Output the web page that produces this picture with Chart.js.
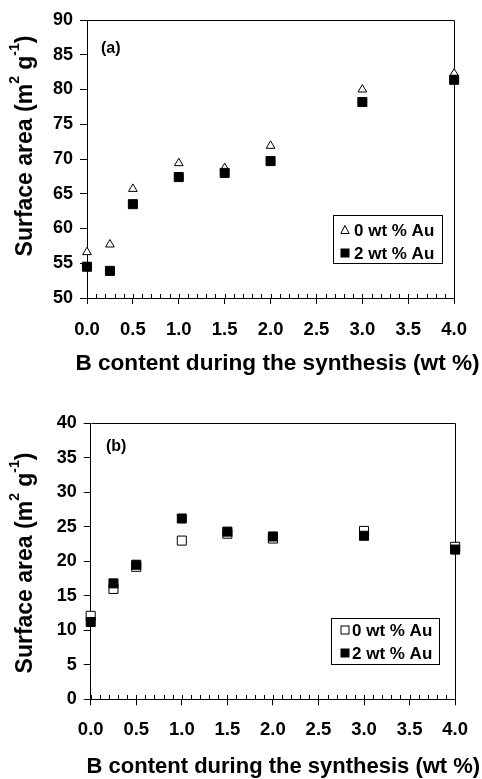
<!DOCTYPE html>
<html>
<head>
<meta charset="utf-8">
<script src="https://cdn.jsdelivr.net/npm/chart.js@4.4.1/dist/chart.umd.min.js"></script>
<style>
  html, body { margin: 0; padding: 0; background: #fff; }
  .panel { position: relative; width: 482px; }
  canvas { display: block; }
</style>
</head>
<body>
<div class="panel"><canvas id="panelA" width="482" height="390"></canvas></div>
<div class="panel"><canvas id="panelB" width="482" height="389"></canvas></div>
<script>
// Contenido de B (wt %) usado en la síntesis
const bContent = [0.0, 0.25, 0.5, 1.0, 1.5, 2.0, 3.0, 4.0];

// (a) superficie específica
const areaA0 = [56.6, 57.7, 65.7, 69.4, 68.7, 71.9, 80.0, 82.3];
const areaA2 = [54.5, 53.9, 63.5, 67.4, 68.0, 69.7, 78.2, 81.4];

// (b) superficie específica
const areaB0 = [12.1, 16.0, 19.2, 23.0, 24.0, 23.3, 24.4, 22.1];
const areaB2 = [11.2, 16.8, 19.5, 26.2, 24.3, 23.6, 23.7, 21.7];

const serieLabels = ['0 wt % Au', '2 wt % Au'];
const xTitle = 'B content during the synthesis (wt %)';

const FONT = '"Liberation Sans", Arial, Helvetica, sans-serif';
Chart.defaults.font.family = FONT;
Chart.defaults.color = '#000';

function puntos(xs, ys) {
    return xs.map((x, i) => ({ x: x, y: ys[i] }));
}

// Marcadores pequeños para la leyenda
function dibujarMarcador(ctx, tipo, x, y) {
    ctx.save();
    ctx.lineWidth = 1;
    ctx.strokeStyle = '#000';
    if (tipo === 'triangle') {
        ctx.fillStyle = '#fff';
        ctx.beginPath();
        ctx.moveTo(x, y - 4.5);
        ctx.lineTo(x + 4.2, y + 3.5);
        ctx.lineTo(x - 4.2, y + 3.5);
        ctx.closePath();
        ctx.fill();
        ctx.stroke();
    } else {
        ctx.fillStyle = tipo === 'open' ? '#fff' : '#000';
        ctx.fillRect(x - 4, y - 4, 8, 8);
        ctx.strokeRect(x - 4, y - 4, 8, 8);
    }
    ctx.restore();
}

// Título del eje Y con superíndices
function dibujarTituloY(ctx, cx, cy) {
    const partes = [
        { t: 'Surface area (m', sup: false },
        { t: '2', sup: true },
        { t: ' g', sup: false },
        { t: '-1', sup: true },
        { t: ')', sup: false }
    ];
    const fNormal = 'bold 23px ' + FONT;
    const fSup = 'bold 14px ' + FONT;
    ctx.save();
    let total = 0;
    partes.forEach(p => {
        ctx.font = p.sup ? fSup : fNormal;
        p.w = ctx.measureText(p.t).width;
        total += p.w;
    });
    ctx.translate(cx, cy);
    ctx.rotate(-Math.PI / 2);
    ctx.fillStyle = '#000';
    ctx.textAlign = 'left';
    ctx.textBaseline = 'alphabetic';
    let x = -total / 2;
    partes.forEach(p => {
        ctx.font = p.sup ? fSup : fNormal;
        ctx.fillText(p.t, x, p.sup ? -5 : 8);
        x += p.w;
    });
    ctx.restore();
}

// Marco, marcas menores, títulos, etiqueta del panel y leyenda
const decoracionPanel = {
    id: 'decoracionPanel',
    beforeDatasetsDraw(chart, args, opts) {
        const ctx = chart.ctx;
        const a = chart.chartArea;
        const xs = chart.scales.x;
        ctx.save();
        ctx.strokeStyle = '#000';
        ctx.lineWidth = 1;
        ctx.beginPath();
        ctx.moveTo(Math.round(a.left) + 0.5, Math.round(a.top) + 0.5);
        ctx.lineTo(Math.round(a.right) + 0.5, Math.round(a.top) + 0.5);
        ctx.lineTo(Math.round(a.right) + 0.5, Math.round(a.bottom) + 0.5);
        ctx.stroke();
        ctx.beginPath();
        for (let i = 0; i <= 40; i++) {
            const px = Math.round(xs.getPixelForValue(i / 10)) + 0.5;
            ctx.moveTo(px, Math.round(a.bottom));
            ctx.lineTo(px, Math.round(a.bottom) - 4);
        }
        ctx.stroke();
        ctx.restore();
    },
    afterDraw(chart, args, opts) {
        const ctx = chart.ctx;
        ctx.save();
        ctx.fillStyle = '#000';
        ctx.font = 'bold 16px ' + FONT;
        ctx.textBaseline = 'middle';
        ctx.textAlign = 'left';
        ctx.fillText(opts.etiqueta, opts.etiquetaX, opts.etiquetaY);

        const L = opts.leyenda;
        ctx.fillStyle = '#fff';
        ctx.fillRect(L.x, L.y, L.w, L.h);
        ctx.strokeStyle = '#000';
        ctx.lineWidth = 1;
        ctx.strokeRect(L.x + 0.5, L.y + 0.5, L.w, L.h);
        ctx.fillStyle = '#000';
        ctx.font = 'bold 17px ' + FONT;
        serieLabels.forEach((txt, i) => {
            const y = L.y + L.fila0 + i * L.paso;
            dibujarMarcador(ctx, L.marcadores[i], L.x + L.marcaX, y);
            ctx.fillStyle = '#000';
            ctx.fillText(txt, L.x + L.textoX, y + 1);
        });

        // título del eje X (sin compresión por ancho máximo)
        ctx.font = 'bold ' + opts.tituloXTam + 'px ' + FONT;
        ctx.textAlign = 'center';
        ctx.textBaseline = 'alphabetic';
        ctx.fillText(xTitle, opts.tituloXX, opts.tituloXY);

        dibujarTituloY(ctx, opts.tituloYX, opts.tituloYY);
        ctx.restore();
    }
};

function crearPanel(id, cfg) {
    const ctx = document.getElementById(id).getContext('2d');
    new Chart(ctx, {
        type: 'scatter',
        data: {
            datasets: [{
                label: serieLabels[0],
                data: puntos(bContent, cfg.serie0),
                pointStyle: cfg.estilo0,
                pointRadius: cfg.radio0,
                backgroundColor: '#fff',
                borderColor: '#000',
                borderWidth: 1,
                order: 1
            }, {
                label: serieLabels[1],
                data: puntos(bContent, cfg.serie1),
                pointStyle: 'rect',
                pointRadius: 6.4,
                backgroundColor: '#000',
                borderColor: '#000',
                borderWidth: 1,
                order: 0
            }]
        },
        options: {
            responsive: false,
            animation: false,
            clip: false,
            layout: { padding: cfg.padding },
            scales: {
                x: {
                    type: 'linear',
                    min: 0,
                    max: 4,
                    ticks: {
                        stepSize: 0.5,
                        padding: cfg.xTickPad,
                        font: { size: 18.5, weight: 'bold' },
                        color: '#000',
                        callback: v => v.toFixed(1)
                    },
                    grid: { drawOnChartArea: false, tickLength: 6, color: '#000' },
                    border: { color: '#000', width: 1 },
                    title: { display: false },
                    afterFit: s => { s.height = cfg.xAlto; }
                },
                y: {
                    min: cfg.yMin,
                    max: cfg.yMax,
                    ticks: {
                        stepSize: 5,
                        padding: 7,
                        font: { size: 18, weight: 'bold' },
                        color: '#000'
                    },
                    grid: { drawOnChartArea: false, tickLength: 7, color: '#000' },
                    border: { color: '#000', width: 1 },
                    afterFit: s => { s.width = cfg.yAncho; }
                }
            },
            plugins: {
                legend: { display: false },
                tooltip: { enabled: false },
                decoracionPanel: cfg.decoracion
            }
        },
        plugins: [decoracionPanel]
    });
}

document.addEventListener('DOMContentLoaded', function() {
    crearPanel('panelA', {
        serie0: areaA0,
        serie1: areaA2,
        estilo0: 'triangle',
        radio0: 5,
        yMin: 50,
        yMax: 90,
        padding: { left: 0, right: 14.5, top: 20, bottom: 0 },
        yAncho: 87,
        xAlto: 92,
        xTickPad: 15,
        decoracion: {
            etiqueta: '(a)', etiquetaX: 101, etiquetaY: 49,
            tituloXX: 277.5, tituloXY: 370, tituloXTam: 22.6,
            tituloYX: 24, tituloYY: 146,
            leyenda: { x: 333, y: 215, w: 109, h: 48, fila0: 15, paso: 23, marcaX: 12, textoX: 21,
                       marcadores: ['triangle', 'filled'] }
        }
    });

    crearPanel('panelB', {
        serie0: areaB0,
        serie1: areaB2,
        estilo0: 'rect',
        radio0: 6.4,
        yMin: 0,
        yMax: 40,
        padding: { left: 0, right: 18.7, top: 33.3, bottom: 0 },
        yAncho: 90.7,
        xAlto: 79.7,
        xTickPad: 14,
        decoracion: {
            etiqueta: '(b)', etiquetaX: 106, etiquetaY: 57,
            tituloXX: 283.4, tituloXY: 383, tituloXTam: 22,
            tituloYX: 24, tituloYY: 173,
            leyenda: { x: 331, y: 228, w: 108, h: 46, fila0: 12, paso: 23, marcaX: 14, textoX: 21,
                       marcadores: ['open', 'filled'] }
        }
    });
});
</script>
</body>
</html>
